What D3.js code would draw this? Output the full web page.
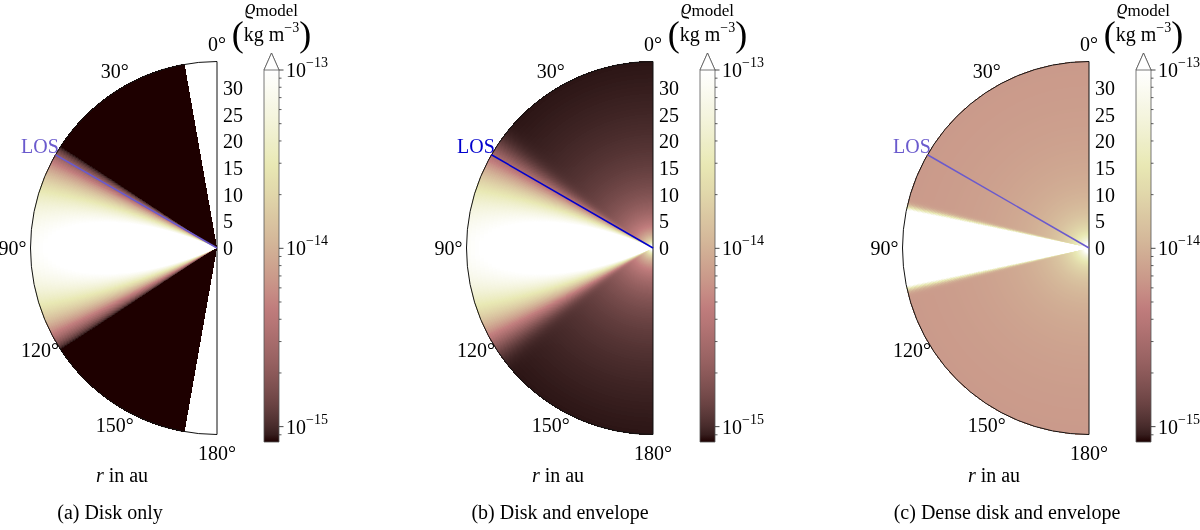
<!DOCTYPE html>
<html>
<head>
<meta charset="utf-8">
<script src="https://cdn.jsdelivr.net/npm/d3@7"></script>
<style>
body { margin: 0; background: #fff; }
#wrap { position: relative; width: 1200px; height: 530px; }
canvas, svg { position: absolute; left: 0; top: 0; }
text { font-family: "Liberation Serif", "Times New Roman", serif; fill: #000; }
</style>
</head>
<body>
<div id="wrap"><canvas id="cv" width="1200" height="530"></canvas><svg id="sv" width="1200" height="530"></svg></div>
<script>
// panel texts
var captions = ["(a) Disk only", "(b) Disk and envelope", "(c) Dense disk and envelope"];
var captionX = [110, 560, 1007];
var originX = [217, 653, 1089];
var losColor = ["#6a5acd", "#0000cd", "#6a5acd"];
var losAngle = 60;

// axes
var thetaTicks = [0, 30, 60, 90, 120, 150, 180];
var thetaLabels = ["0°", "30°", "LOS", "90°", "120°", "150°", "180°"];
var rTicks = [0, 5, 10, 15, 20, 25, 30];
var rMax = 35;
var cbarTicks = [1e-15, 1e-14, 1e-13];
var cbarExp = ["−15", "−14", "−13"];
var vMin = 8.2e-16, vMax = 1e-13;

// model grid coverage (deg from pole)
var thetaMin = [10, 0, 0];

// disk: rho at R0 = 30 au, scale height h0 at R0, density and flaring exponents
var diskRho0 = [1.12e-13, 1.12e-13, 1e-9];
var diskH0 = [6.2, 6.2, 1.45];
var diskP = [1.6, 1.6, 0.3];
var diskBeta = [1.15, 1.15, 1.0];

// envelope: floor + A * (r/au)^-q
var envFloor = [0, 7e-16, 6.1e-15];
var envA = [0, 3.3e-14, 8.27e-14];
var envQ = [1.5, 1.5, 1.3];

var oy = 248, R = 186.5, fs = 20;

// matplotlib "pink"
function pink(t) {
  t = Math.max(0, Math.min(1, t));
  var hr = Math.min(1, 0.0416 + t * 0.9584 / 0.365079);
  var hg = Math.max(0, Math.min(1, (t - 0.365079) / 0.380953));
  var hb = Math.max(0, Math.min(1, (t - 0.746032) / 0.253968));
  return [Math.sqrt((2 * t + hr) / 3), Math.sqrt((2 * t + hg) / 3), Math.sqrt((2 * t + hb) / 3)];
}
function pinkStr(t) {
  var c = pink(t);
  return d3.rgb(c[0] * 255, c[1] * 255, c[2] * 255).formatHex();
}

var color = d3.scaleSequentialLog(pinkStr).domain([vMin, vMax]).clamp(true);
var rScale = d3.scaleLinear().domain([0, rMax]).range([0, R]);

function rho(i, r, th) {
  var Rc = r * Math.sin(th), z = r * Math.cos(th);
  var d = 0;
  if (Rc > 1e-6) {
    var h = diskH0[i] * Math.pow(Rc / 30, diskBeta[i]);
    d = diskRho0[i] * Math.pow(Rc / 30, -diskP[i]) * Math.exp(-z * z / (2 * h * h));
  }
  var e = envFloor[i] + envA[i] * Math.pow(r, -envQ[i]);
  return d + e;
}

// spherical grid: log radial cells, fine theta cells
var rIn = 0.3, nR = 200, dTh = 0.25;
var ratio = Math.pow(rMax / rIn, 1 / nR);

var canvas = document.getElementById("cv");
var ctx = canvas.getContext("2d");
var img = ctx.createImageData(1200, 530);

originX.forEach(function (ox, i) {
  for (var py = Math.floor(oy - R) - 1; py <= Math.ceil(oy + R) + 1; py++) {
    for (var px = Math.floor(ox - R) - 1; px < ox; px++) {
      var dx = px + 0.5 - ox, dy = py + 0.5 - oy;
      var dist = Math.sqrt(dx * dx + dy * dy);
      if (dist > R + 0.5) continue;
      var r = rScale.invert(dist);
      var thDeg = Math.atan2(-dx, -dy) * 180 / Math.PI;
      if (thDeg < thetaMin[i] || thDeg > 180 - thetaMin[i]) continue;
      var ir = r < rIn ? 0 : Math.min(nR - 1, Math.floor(Math.log(r / rIn) / Math.log(ratio)));
      var rc = rIn * Math.pow(ratio, ir + 0.5);
      var tc = (Math.floor(thDeg / dTh) + 0.5) * dTh;
      var c = d3.rgb(color(rho(i, rc, tc * Math.PI / 180)));
      var k = (py * 1200 + px) * 4;
      img.data[k] = c.r; img.data[k + 1] = c.g; img.data[k + 2] = c.b; img.data[k + 3] = 255;
    }
  }
});
ctx.putImageData(img, 0, 0);

var svg = d3.select("#sv");
var defs = svg.append("defs");
var grad = defs.append("linearGradient").attr("id", "cbgrad")
  .attr("x1", 0).attr("y1", 1).attr("x2", 0).attr("y2", 0);
d3.range(0, 1.0001, 0.02).forEach(function (f) {
  grad.append("stop").attr("offset", f).attr("stop-color", pinkStr(f));
});

var cbTop = 70, cbBot = 442, cbW = 15, cbTip = 53;
var cbScale = d3.scaleLog().domain([vMin, vMax]).range([cbBot, cbTop]);
var minorTicks = [];
[1e-16, 1e-15, 1e-14].forEach(function (dec) {
  d3.range(2, 10).forEach(function (m) {
    var v = m * dec;
    if (v >= vMin && v <= vMax) minorTicks.push(v);
  });
});

originX.forEach(function (ox, i) {
  var g = svg.append("g");

  // outline of the half disk
  g.append("path")
    .attr("transform", "translate(" + ox + "," + oy + ")")
    .attr("d", d3.arc().innerRadius(0).outerRadius(R).startAngle(-Math.PI).endAngle(0)())
    .attr("fill", "none").attr("stroke", "#111").attr("stroke-width", 1);

  // line of sight
  var la = losAngle * Math.PI / 180;
  g.append("line")
    .attr("x1", ox).attr("y1", oy)
    .attr("x2", ox - rScale(rMax) * Math.sin(la)).attr("y2", oy - rScale(rMax) * Math.cos(la))
    .attr("stroke", losColor[i]).attr("stroke-width", 1.5);

  // theta labels
  g.selectAll(".tl").data(thetaTicks).enter().append("text")
    .attr("x", function (d) { return ox - (R + 18) * Math.sin(d * Math.PI / 180); })
    .attr("y", function (d) { return oy - (R + 18) * Math.cos(d * Math.PI / 180); })
    .attr("text-anchor", "middle").attr("dominant-baseline", "central")
    .attr("font-size", fs)
    .style("fill", function (d, j) { return thetaLabels[j] === "LOS" ? losColor[i] : "#000"; })
    .text(function (d, j) { return thetaLabels[j]; });

  // r labels
  g.selectAll(".rl").data(rTicks).enter().append("text")
    .attr("x", ox + 6).attr("y", function (d) { return oy - rScale(d); })
    .attr("dominant-baseline", "central").attr("font-size", fs)
    .text(function (d) { return d; });

  g.append("text").attr("x", ox - 95).attr("y", 475)
    .attr("text-anchor", "middle").attr("dominant-baseline", "central").attr("font-size", fs)
    .html('<tspan font-style="italic">r</tspan> in au');

  g.append("text").attr("x", captionX[i]).attr("y", 512)
    .attr("text-anchor", "middle").attr("dominant-baseline", "central").attr("font-size", fs)
    .text(captions[i]);

  // colorbar
  var cx = ox + 47;
  g.append("rect").attr("x", cx).attr("y", cbTop).attr("width", cbW).attr("height", cbBot - cbTop)
    .attr("fill", "url(#cbgrad)");
  g.append("path")
    .attr("d", "M" + cx + "," + cbBot + "V" + cbTop + "L" + (cx + cbW / 2) + "," + cbTip +
      "L" + (cx + cbW) + "," + cbTop + "V" + cbBot + "Z")
    .attr("fill", "none").attr("stroke", "#555").attr("stroke-width", 0.8);
  g.append("path")
    .attr("d", "M" + cx + "," + cbTop + "L" + (cx + cbW / 2) + "," + cbTip + "L" + (cx + cbW) + "," + cbTop + "Z")
    .attr("fill", pinkStr(1)).attr("stroke", "#555").attr("stroke-width", 0.8);

  g.selectAll(".mt").data(minorTicks).enter().append("line")
    .attr("x1", cx + cbW).attr("x2", cx + cbW + 2.5)
    .attr("y1", function (d) { return cbScale(d); }).attr("y2", function (d) { return cbScale(d); })
    .attr("stroke", "#333").attr("stroke-width", 0.8);
  g.selectAll(".Mt").data(cbarTicks).enter().append("line")
    .attr("x1", cx + cbW).attr("x2", cx + cbW + 4.5)
    .attr("y1", function (d) { return cbScale(d); }).attr("y2", function (d) { return cbScale(d); })
    .attr("stroke", "#333").attr("stroke-width", 0.9);
  g.selectAll(".cl").data(cbarTicks).enter().append("text")
    .attr("x", cx + cbW + 7).attr("y", function (d) { return cbScale(d); })
    .attr("dominant-baseline", "central").attr("font-size", fs)
    .html(function (d, j) {
      return '10<tspan font-size="14" dy="-8">' + cbarExp[j] + '</tspan>';
    });

  // colorbar label
  var lx = cx + cbW / 2;
  g.append("text").attr("x", lx).attr("y", 14).attr("text-anchor", "middle").attr("font-size", 21)
    .html('<tspan font-style="italic">ϱ</tspan><tspan font-size="17" dy="2">model</tspan>');
  g.append("text").attr("x", lx).attr("y", 41).attr("text-anchor", "middle").attr("font-size", fs)
    .html('<tspan font-size="36" dy="5">(</tspan><tspan dy="-5">kg m</tspan><tspan font-size="14" dy="-9">−3</tspan><tspan font-size="36" dy="14">)</tspan>');
});
</script>
</body>
</html>
